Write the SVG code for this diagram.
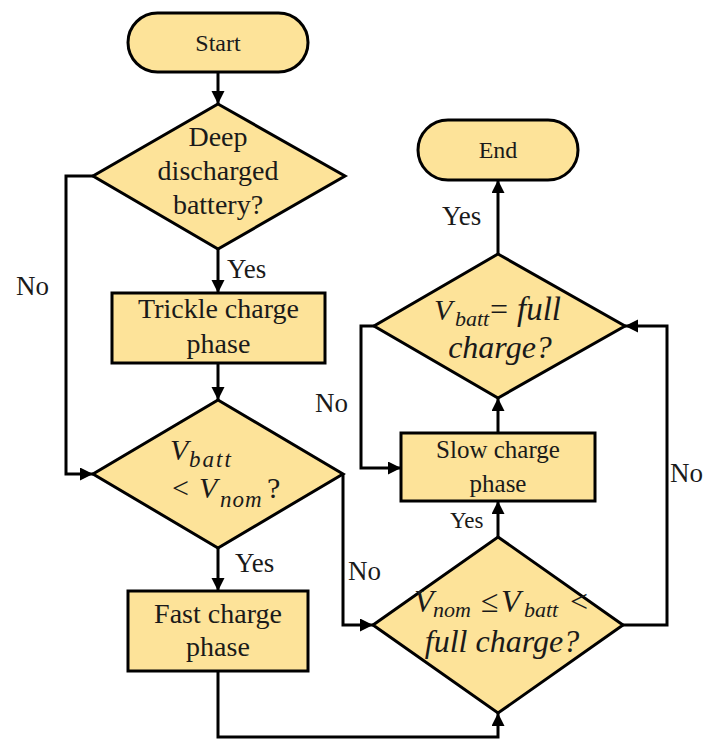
<svg xmlns="http://www.w3.org/2000/svg" width="706" height="740" viewBox="0 0 706 740">
<defs>
<marker id="ah" markerUnits="userSpaceOnUse" markerWidth="14" markerHeight="14" refX="13" refY="6.5" orient="auto"><path d="M0,0 L13,6.5 L0,13 z" fill="#000"/></marker>
<style>
.shape{fill:#FDE399;stroke:#000;stroke-width:3;stroke-linejoin:miter}
.t{font-family:"Liberation Serif","Times New Roman",serif;fill:#1a1a1a}
.c{text-anchor:middle}
.i{font-style:italic}
.conn path{fill:none;stroke:#000;stroke-width:3}
.lbl{font-family:"Liberation Serif","Times New Roman",serif;fill:#1a1a1a;font-size:27px}
</style>
</defs>
<rect width="706" height="740" fill="#fff"/>
<g class="conn" id="connectors">
<path d="M218,72 V104" marker-end="url(#ah)"/>
<path d="M218,249 V293" marker-end="url(#ah)"/>
<path d="M218,363 V400" marker-end="url(#ah)"/>
<path d="M93,176 H66 V474 H93" marker-end="url(#ah)"/>
<path d="M218,548 V591" marker-end="url(#ah)"/>
<path d="M343,474 V625 H373" marker-end="url(#ah)"/>
<path d="M218,671 V737 H498 V713" marker-end="url(#ah)"/>
<path d="M498,537 V501" marker-end="url(#ah)"/>
<path d="M498,433 V398" marker-end="url(#ah)"/>
<path d="M498,254 V180" marker-end="url(#ah)"/>
<path d="M374,326 H361 V468 H401" marker-end="url(#ah)"/>
<path d="M623,625 H667 V326 H625" marker-end="url(#ah)"/>
</g>
<g id="labels">
<text class="lbl" x="16" y="295">No</text>
<text class="lbl" x="227" y="278">Yes</text>
<text class="lbl" x="235" y="572">Yes</text>
<text class="lbl" x="348" y="580">No</text>
<text class="lbl" x="315" y="412">No</text>
<text class="lbl" x="670" y="482">No</text>
<text class="lbl" x="442" y="225">Yes</text>
<text class="lbl" x="450" y="528" style="font-size:23px">Yes</text>
</g>
<g id="start">
<rect class="shape" x="128" y="13" width="180" height="59" rx="29.5"/>
<text class="t c" x="218" y="51" font-size="24">Start</text>
</g>
<g id="deep">
<polygon class="shape" points="218,104 345,176 218,249 93,176"/>
<text class="t c" font-size="28"><tspan x="218" y="146">Deep</tspan><tspan x="218" y="180">discharged</tspan><tspan x="218" y="214">battery?</tspan></text>
</g>
<g id="trickle">
<rect class="shape" x="112" y="293" width="213" height="70"/>
<text class="t c" font-size="28"><tspan x="218.5" y="318">Trickle charge</tspan><tspan x="218.5" y="353">phase</tspan></text>
</g>
<g id="vnom-check">
<polygon class="shape" points="218,400 343,474 218,548 93,474"/>
<text class="t i" font-size="30"><tspan x="170" y="460">V</tspan><tspan x="189" y="467" font-size="23" letter-spacing="2">batt</tspan></text>
<text class="t" font-size="30"><tspan x="172" y="498">&lt;</tspan><tspan x="199" y="498" font-style="italic">V</tspan><tspan x="220" y="507" font-size="23" font-style="italic" letter-spacing="1">nom</tspan><tspan x="267" y="498">?</tspan></text>
</g>
<g id="fast">
<rect class="shape" x="128" y="591" width="180" height="80"/>
<text class="t c" font-size="28"><tspan x="218" y="623">Fast charge</tspan><tspan x="218" y="656">phase</tspan></text>
</g>
<g id="range-check">
<polygon class="shape" points="498,537 623,625 498,713 373,625"/>
<text class="t" font-size="32"><tspan x="414" y="612" font-style="italic">V</tspan><tspan x="433" y="617" font-size="22" font-style="italic">nom</tspan><tspan x="481" y="612">≤</tspan><tspan x="501" y="612" font-style="italic">V</tspan><tspan x="524" y="617" font-size="22" font-style="italic">batt</tspan><tspan x="570" y="612">&lt;</tspan></text>
<text class="t c i" x="502" y="652" font-size="32">full charge?</text>
</g>
<g id="slow">
<rect class="shape" x="401" y="433" width="194" height="68"/>
<text class="t c" font-size="25"><tspan x="498" y="458">Slow charge</tspan><tspan x="498" y="492">phase</tspan></text>
</g>
<g id="full-check">
<polygon class="shape" points="498,254 625,326 498,398 374,326"/>
<text class="t" font-size="30"><tspan x="434" y="320" font-style="italic">V</tspan><tspan x="455" y="326" font-size="22" font-style="italic">batt</tspan><tspan x="490" y="320" font-size="32">=</tspan><tspan x="517" y="320" font-size="33" font-style="italic">full</tspan></text>
<text class="t c i" x="500" y="358" font-size="32">charge?</text>
</g>
<g id="end">
<rect class="shape" x="418" y="120" width="160" height="60" rx="30"/>
<text class="t c" x="498" y="158" font-size="24">End</text>
</g>
</svg>
